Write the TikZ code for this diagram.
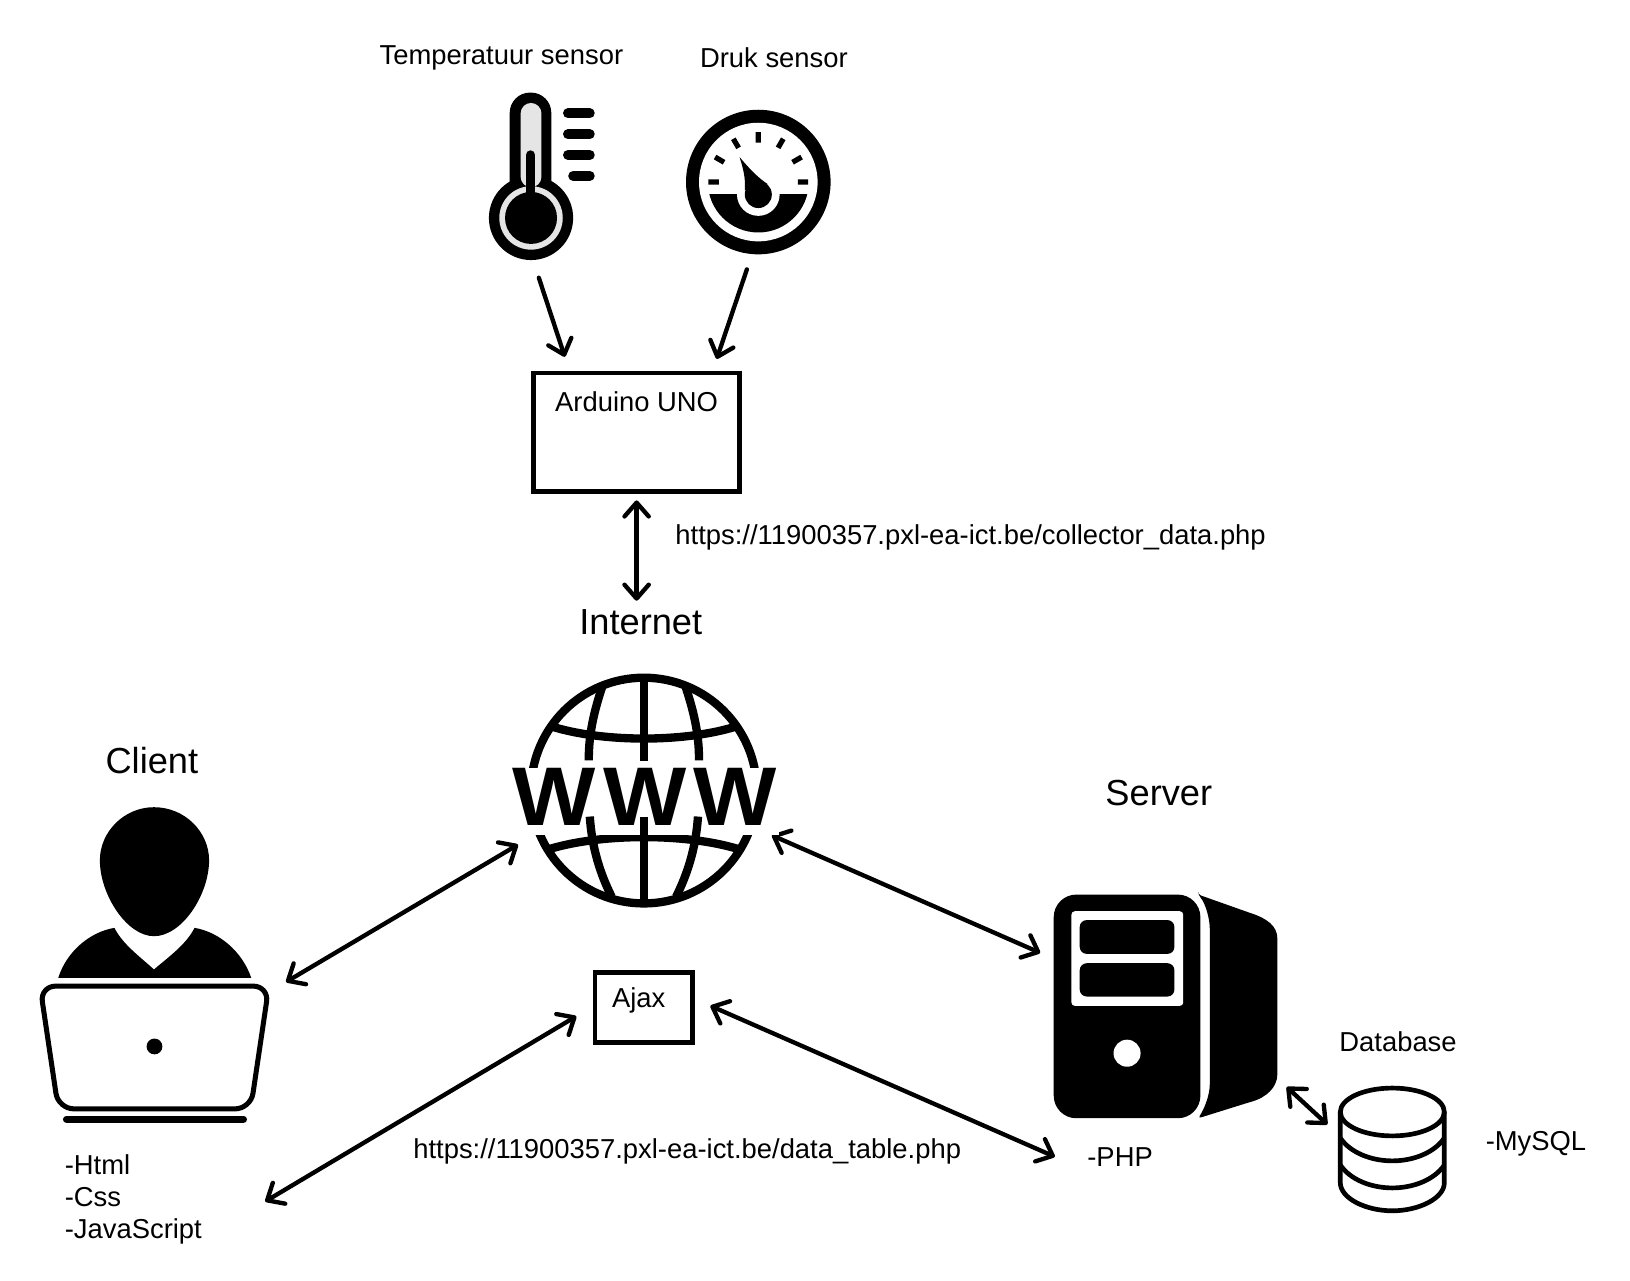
\documentclass[tikz,border=0pt]{standalone}
\usepackage{fontspec}
\setmainfont{Liberation Sans}
\usepackage{tikz}
\usetikzlibrary{positioning, arrows.meta}

\tikzset{
  smalltext/.style={inner sep=0pt, font=\fontsize{15.8}{18.6}\selectfont},
  bigtext/.style={inner sep=0pt, font=\fontsize{20.9}{24}\selectfont},
  blockbox/.style={draw, line width=2.7pt, inner sep=0pt},
  conn/.style={line width=2.5pt, line cap=round},
  iconline/.style={line width=4.8pt}
}

\begin{document}
\begin{tikzpicture}[x=0.6pt, y=-0.6pt,
                >={Straight Barb[length=8pt,width=14pt,round]}]

                \useasboundingbox (0,0) rectangle (1567,1230.6);

                \node[smalltext] (tempLabel) at (482,56) {Temperatuur sensor};
                \node[smalltext] (drukLabel) at (744,55) {Druk sensor};
                \node[bigtext] (internetLabel) at (616,598) {Internet};
                \node[bigtext] (clientLabel) at (146,731) {Client};
                \node[bigtext] (serverLabel) at (1114,762) {Server};
                \node[smalltext] (dbLabel) at (1344,1001) {Database};
                \node[smalltext, anchor=west] (mysqlLabel) at (1428,1100) {-MySQL};
                \node[smalltext, anchor=west] (phpLabel) at (1045,1112) {-PHP};
                \node[smalltext, anchor=north west, align=left] (clientTech) at (62,1109.5) {-Html\\-Css\\-JavaScript};
                \node[smalltext, anchor=west] (urlCollector) at (649,517) {https://11900357.pxl-ea-ict.be/collector\_data.php};
                \node[smalltext, anchor=west] (urlTable) at (397,1107) {https://11900357.pxl-ea-ict.be/data\_table.php};

                \node[blockbox, minimum width=119pt, minimum height=68.4pt] (arduino) at (612,415.5) {};
                \node[smalltext] (arduinoLabel) at (612,386) {Arduino UNO};
                \node[blockbox, minimum width=56.4pt, minimum height=40.2pt] (ajax) at (619,968.5) {};
                \node[smalltext] (ajaxLabel) at (614,961.5) {Ajax};

                % free ends of the arrows
                \coordinate (thermoOut) at (518,267);
                \coordinate (arduinoA) at (543,343);
                \coordinate (gaugeOut) at (718,259);
                \coordinate (arduinoB) at (689,345);
                \coordinate (wwwLeft) at (498,812);
                \coordinate (wwwRight) at (742,803);
                \coordinate (clientUp) at (275,944);
                \coordinate (clientDown) at (255,1155);
                \coordinate (ajaxLeft) at (554,977);
                \coordinate (ajaxRight) at (683,967);
                \coordinate (serverUp) at (1000,916);
                \coordinate (serverDown) at (1014,1112);
                \coordinate (serverDb) at (1237,1045);
                \coordinate (dbIn) at (1276,1081);

                \draw[conn, ->] (thermoOut) -- (arduinoA);
                \draw[conn, ->] (gaugeOut) -- (arduinoB);
                \draw[conn, <->, shorten <=3.8pt, shorten >=4.8pt] (arduino.south) -- (arduino.south |- internetLabel.north);
                \draw[conn, <->] (clientUp) -- (wwwLeft);
                \draw[conn, <->] (wwwRight) -- (serverUp);
                \draw[conn, <->] (clientDown) -- (ajaxLeft);
                \draw[conn, <->] (ajaxRight) -- (serverDown);
                \draw[conn, <->] (serverDb) -- (dbIn);

                % thermometer
                \fill[rounded corners=11.7pt] (490,209) -- (490,89) -- (530,89) -- (530,209) -- cycle;
                \fill (510.5,209.5) circle [radius=40.5];
                \fill[black!10, rounded corners=6pt] (500.5,180) -- (500.5,99) -- (520.5,99) -- (520.5,180) -- cycle;
                \fill[black!10] (510.5,209.5) circle [radius=30.5];
                \fill (510.5,209.5) circle [radius=25];
                \draw[line width=5.4pt, line cap=round] (510,149) -- (510,190);
                \draw[line width=5.7pt, line cap=round] (546,109) -- (567,109) (546,129) -- (567,129)
                      (546,149) -- (567,149) (551,169) -- (567,169);

                % gauge
                \begin{scope}[shift={(729,175)}]
                  \fill (0,0) circle [radius=69.5];
                  \fill[white] (0,0) circle [radius=57];
                  \draw[line width=3pt]
                    \foreach \a in {0,-30,...,-180} { (\a:38) -- (\a:48) };
                  \begin{scope}
                    \clip (-69,12) rectangle (69,75);
                    \fill (0,0) circle [radius=48.5];
                  \end{scope}
                  \fill[white] (0,12) circle [radius=20.5];
                  \fill (0,12) circle [radius=13];
                  \fill (-18,-24) .. controls (-8,-12) and (0,-4) .. (9,2) -- (-13,8)
                        .. controls (-12,-5) and (-15,-14) .. (-18,-24) -- cycle;
                \end{scope}

                % globe
                \begin{scope}[shift={(619,760)}]
                  \draw[iconline] (0,0) circle [radius=108.5];
                  \draw[iconline] (-90,-62) .. controls (-40,-46) and (40,-46) .. (90,-62);
                  \draw[iconline] (-90,56) .. controls (-40,41) and (40,41) .. (90,56);
                  \fill[white] (-130,-22) rectangle (130,43);
                  \draw[iconline] (-40,-100) .. controls (-50,-70) and (-53,-50) .. (-53,-29);
                  \draw[iconline] (40,-100) .. controls (50,-70) and (53,-50) .. (53,-29);
                  \draw[iconline] (0,-110) -- (0,-28);
                  \draw[iconline] (-52,25) .. controls (-50,55) and (-42,80) .. (-31,102);
                  \draw[iconline] (52,25) .. controls (50,55) and (42,80) .. (31,102);
                  \draw[iconline] (0,25) -- (0,110);
                  \node[inner sep=0pt, font=\fontsize{48}{48}\selectfont\bfseries, xscale=1.06] (wwwText) at (1,6) {W\hspace{4pt}W\hspace{4pt}W};
                \end{scope}

                % client
                \fill (148,776) .. controls (178,776) and (201,800) .. (201,827)
                      .. controls (201,860) and (175,900) .. (148,900)
                      .. controls (122,900) and (96,860) .. (96,827)
                      .. controls (96,800) and (119,776) .. (148,776) -- cycle;
                \fill (56,940) .. controls (64,915) and (86,896) .. (110,892)
                      .. controls (118,908) and (135,920) .. (148,932)
                      .. controls (162,920) and (179,908) .. (187,892)
                      .. controls (211,896) and (233,915) .. (241.5,940) -- cycle;
                \draw[line width=2.9pt, rounded corners=9pt] (148,948) -- (38.5,948) -- (56,1066) -- (241,1066) -- (258.5,948) -- cycle;
                \fill (148.5,1006) circle [radius=7.6];
                \draw[line width=4.2pt, line cap=round] (64,1076) -- (234,1076);

                % server
                \fill[rounded corners=13pt] (1013,860) rectangle (1154,1075);
                \fill[rounded corners=1.5pt] (1152,860) -- (1200,877) .. controls (1218,883) and (1228,890) .. (1228,905)
                      -- (1228,1030) .. controls (1228,1045) and (1218,1055) .. (1200,1060) -- (1152,1075)
                      .. controls (1160,1062) and (1163,1050) .. (1163,1040) -- (1163,895)
                      .. controls (1163,885) and (1160,870) .. (1152,860) -- cycle;
                \fill[white, rounded corners=2pt] (1030,876) rectangle (1137.5,967);
                \fill[rounded corners=4pt] (1038,884.5) rectangle (1129,917);
                \fill[rounded corners=4pt] (1038,926) rectangle (1129,958);
                \fill[white] (1083.5,1012.5) circle [radius=13];

                % database
                \begin{scope}[line width=2.7pt, xshift=-1.2pt]
                  \draw (1340.5,1069) ellipse [x radius=50, y radius=23];
                  \draw (1290.5,1069) -- (1290.5,1137) .. controls (1290.5,1152) and (1315,1164) .. (1340.5,1164)
                        .. controls (1366,1164) and (1390.5,1152) .. (1390.5,1137) -- (1390.5,1069);
                  \draw (1290.5,1094) .. controls (1300,1108) and (1320,1116) .. (1340.5,1116)
                        .. controls (1361,1116) and (1381,1108) .. (1390.5,1094);
                  \draw (1290.5,1120) .. controls (1300,1134) and (1320,1142) .. (1340.5,1142)
                        .. controls (1361,1142) and (1381,1134) .. (1390.5,1120);
                \end{scope}
            \end{tikzpicture}
\end{document}
